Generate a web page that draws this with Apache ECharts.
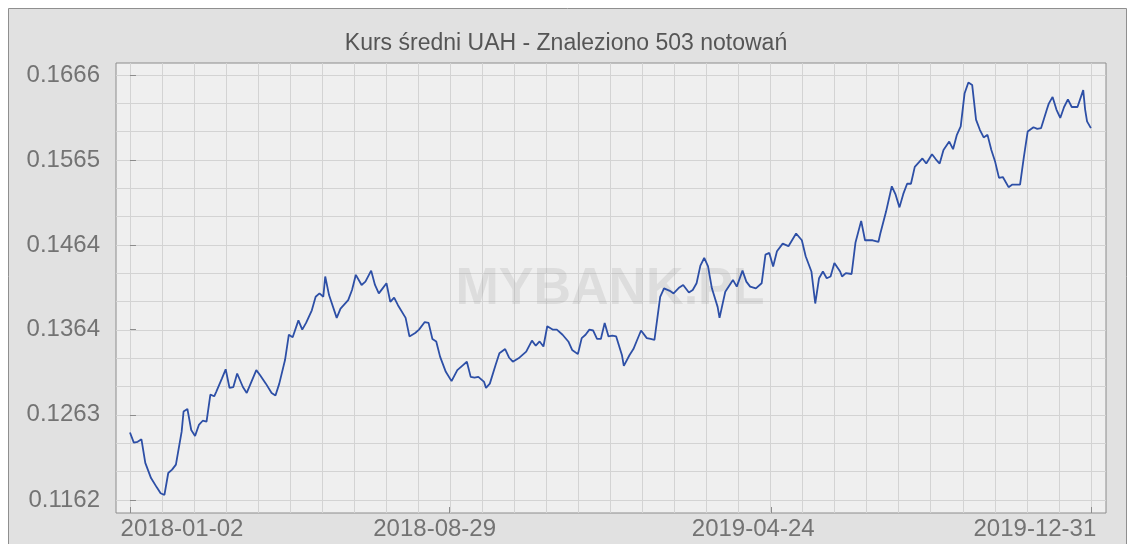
<!DOCTYPE html>
<html>
<head>
<meta charset="UTF-8">
<script src="https://cdn.jsdelivr.net/npm/echarts@6.0.0/dist/echarts.min.js"></script>
</head>
<body style="margin:0;background:#fff">
<div id="container" style="width:1129px;height:544px"></div>
<script>
// trading-day index (0 = 2018-01-02 ... 502 = 2019-12-31) and mean UAH rate
var dayIdx = [
    0, 2, 4, 6, 8, 11, 14, 16, 18, 20, 22, 24, 27, 28, 30, 32, 34, 36, 38, 40, 42, 44, 45, 48, 50, 52, 54, 56, 59, 61, 62, 66, 68, 71, 74, 76, 78, 81, 83, 85, 88, 90, 92, 95, 97, 99, 101, 102,
    104, 108, 110, 114, 116, 118, 121, 123, 126, 128, 130, 132, 134, 136, 138, 140, 144, 146, 149, 151, 154, 156, 158, 160, 162, 165, 168, 169, 171, 174, 176, 178, 180, 182, 185, 186, 188, 191, 193, 196, 198, 200, 203, 204, 207,
    210, 212, 214, 216, 218, 221, 223, 226, 229, 231, 234, 236, 238, 240, 242, 244, 246, 248, 250, 252, 254, 257, 258, 261, 263, 265, 267, 270, 272, 274, 277, 279, 282, 284, 287, 289, 292, 294, 296, 298, 300, 302, 304, 307, 308, 311,
    312, 315, 317, 320, 322, 324, 327, 330, 332, 334, 336, 338, 341, 344, 345, 348, 351, 353, 356, 358, 360, 362, 364, 366, 368, 371, 372, 374, 377, 379, 382, 384, 386, 388, 391, 392, 395, 398, 400, 402, 404, 406, 408,
    410, 411, 414, 416, 419, 421, 423, 425, 428, 430, 432, 434, 436, 438, 440, 442, 444, 446, 448, 450, 452, 454, 456, 459, 461, 465, 467, 469, 472, 474, 476, 479, 480, 482, 484, 486, 488, 490, 492, 495, 498, 499, 500, 502
];
var rate = [
    0.1242, 0.1230, 0.1231, 0.1234, 0.1206, 0.1188, 0.1177, 0.1170, 0.1168, 0.1194, 0.1198, 0.1204, 0.1243, 0.1267, 0.1270, 0.1245, 0.1238, 0.1251, 0.1256, 0.1255, 0.1287, 0.1285, 0.1290, 0.1306, 0.1317, 0.1295, 0.1296, 0.1312, 0.1296, 0.1289, 0.1288, 0.1316, 0.1310, 0.1300, 0.1289, 0.1286, 0.1300, 0.1328, 0.1358, 0.1355, 0.1375, 0.1364, 0.1372, 0.1387, 0.1403, 0.1407, 0.1403, 0.1427,
    0.1405, 0.1378, 0.1389, 0.1399, 0.1411, 0.1429, 0.1417, 0.1421, 0.1434, 0.1417, 0.1407, 0.1413, 0.1419, 0.1397, 0.1402, 0.1393, 0.1378, 0.1356, 0.1360, 0.1364, 0.1373, 0.1372, 0.1353, 0.1350, 0.1332, 0.1314, 0.1303, 0.1304, 0.1316, 0.1322, 0.1326, 0.1308, 0.1307, 0.1308, 0.1302, 0.1295, 0.1300, 0.1322, 0.1336, 0.1341, 0.1331, 0.1326, 0.1330, 0.1329, 0.1338,
    0.1351, 0.1345, 0.1350, 0.1344, 0.1368, 0.1364, 0.1364, 0.1358, 0.1350, 0.1340, 0.1335, 0.1354, 0.1358, 0.1364, 0.1363, 0.1353, 0.1353, 0.1372, 0.1356, 0.1357, 0.1356, 0.1334, 0.1321, 0.1334, 0.1341, 0.1352, 0.1363, 0.1354, 0.1353, 0.1352, 0.1403, 0.1413, 0.1410, 0.1407, 0.1414, 0.1417, 0.1408, 0.1411, 0.1419, 0.1440, 0.1449, 0.1439, 0.1413, 0.1391, 0.1378, 0.1409,
    0.1407, 0.1423, 0.1415, 0.1434, 0.1421, 0.1415, 0.1413, 0.1419, 0.1453, 0.1455, 0.1439, 0.1457, 0.1466, 0.1463, 0.1461, 0.1478, 0.1470, 0.1451, 0.1433, 0.1395, 0.1425, 0.1433, 0.1425, 0.1427, 0.1443, 0.1433, 0.1427, 0.1431, 0.1430, 0.1467, 0.1493, 0.1470, 0.1470, 0.1470, 0.1468, 0.1478, 0.1504, 0.1534, 0.1524, 0.1509, 0.1525, 0.1537, 0.1537,
    0.1557, 0.1558, 0.1567, 0.1561, 0.1572, 0.1566, 0.1561, 0.1577, 0.1587, 0.1578, 0.1595, 0.1605, 0.1644, 0.1657, 0.1654, 0.1613, 0.1601, 0.1592, 0.1595, 0.1577, 0.1563, 0.1544, 0.1545, 0.1533, 0.1536, 0.1536, 0.1569, 0.1599, 0.1604, 0.1602, 0.1603, 0.1625, 0.1632, 0.1640, 0.1625, 0.1615, 0.1628, 0.1637, 0.1628, 0.1628, 0.1648, 0.1625, 0.1611, 0.1603
];
var xLabels = ['2018-01-02', '2018-08-29', '2019-04-24', '2019-12-31'];
var xLabelIdx = [0, 167, 335, 502];
var yTicks = [0.1162, 0.1263, 0.1364, 0.1464, 0.1565, 0.1666];

// layout
var xMin = -7.3, xMax = 509.9, yMin = 0.11466, yMax = 0.16802;
var plotW = 990;
var pxPerIdx = plotW / (xMax - xMin);
var labelShiftPx = [52, -15, -18, -56];

var xGrid = [];
for (var i = 0; i <= 30; i++) xGrid.push(xLabelIdx[3] * i / 30);
var yStep = (yTicks[5] - yTicks[0]) / 15;
var yGrid = [];
for (var j = 0; j <= 15; j++) yGrid.push(yTicks[0] + j * yStep);
var xLabelPos = xLabelIdx.map(function (v, k) { return v + labelShiftPx[k] / pxPerIdx; });

var seriesData = dayIdx.map(function (d, k) { return [d, rate[k]]; });

var labelFont = 'Liberation Sans';
var chart = echarts.init(document.getElementById('container'));
chart.setOption({
    animation: false,
    backgroundColor: '#ffffff',
    graphic: [
        {type: 'rect', z: -10, shape: {x: 8.5, y: 8.5, width: 1118, height: 560},
         style: {fill: '#e1e1e1', stroke: '#8f8f8f', lineWidth: 1}},
        {type: 'text', z: 5, x: 566, y: 44,
         style: {text: 'Kurs średni UAH - Znaleziono 503 notowań', fill: '#555555',
                 font: '23px ' + labelFont, textAlign: 'center', textVerticalAlign: 'middle', verticalAlign: 'middle'}},
        {type: 'text', z: 1, x: 610, y: 290,
         style: {text: 'MYBANK.PL', fill: 'rgba(150,150,150,0.2)',
                 font: 'bold 52px ' + labelFont, textAlign: 'center', textVerticalAlign: 'middle', verticalAlign: 'middle'}}
    ],
    grid: {left: 116, top: 63, width: plotW, height: 450, show: true, backgroundColor: '#efefef',
           borderColor: '#8c8c8c', borderWidth: 1, containLabel: false, outerBoundsMode: 'none'},
    xAxis: [
        {type: 'value', min: xMin, max: xMax, axisLine: {show: false},
         axisTick: {show: false, customValues: xGrid},
         splitLine: {show: true, lineStyle: {color: '#d3d3d3', width: 1}},
         axisLabel: {customValues: xLabelPos, color: '#737373', fontSize: 24, fontFamily: labelFont, margin: 4,
                     formatter: function (v) {
                         var best = 0;
                         for (var k = 1; k < xLabelPos.length; k++) {
                             if (Math.abs(xLabelPos[k] - v) < Math.abs(xLabelPos[best] - v)) best = k;
                         }
                         return xLabels[best];
                     }}},
        {type: 'value', min: xMin, max: xMax, position: 'bottom', axisLine: {show: false},
         axisTick: {show: true, inside: true, length: 6, customValues: xLabelIdx, lineStyle: {color: '#8c8c8c'}},
         axisLabel: {show: false}, splitLine: {show: false}}
    ],
    yAxis: [
        {type: 'value', min: yMin, max: yMax, axisLine: {show: false},
         axisTick: {show: false, customValues: yGrid},
         splitLine: {show: true, lineStyle: {color: '#d3d3d3', width: 1}},
         axisLabel: {customValues: yTicks, color: '#737373', fontSize: 24, fontFamily: labelFont, margin: 16,
                     formatter: function (v) { return v.toFixed(4); }}},
        {type: 'value', min: yMin, max: yMax, position: 'left', axisLine: {show: false},
         axisTick: {show: true, inside: true, length: 6, customValues: yTicks, lineStyle: {color: '#8c8c8c'}},
         axisLabel: {show: false}, splitLine: {show: false}}
    ],
    series: [{
        type: 'line', xAxisIndex: 0, yAxisIndex: 0, data: seriesData, symbol: 'none', smooth: false,
        lineStyle: {color: '#2d4fa6', width: 1.8}, z: 3
    }]
});
</script>
</body>
</html>
